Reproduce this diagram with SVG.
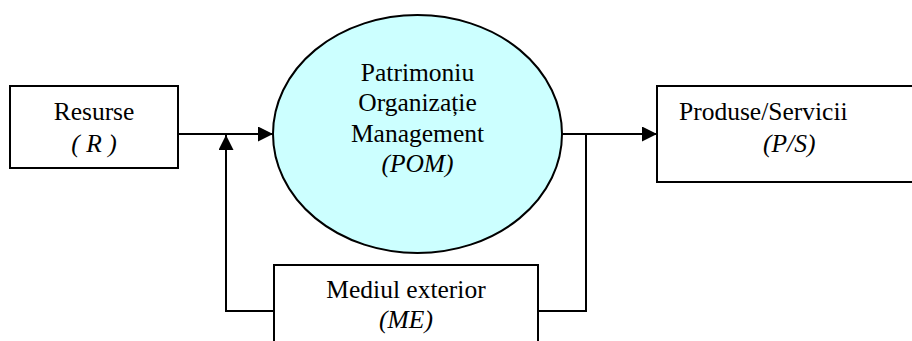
<svg xmlns="http://www.w3.org/2000/svg" width="912" height="341" viewBox="0 0 912 341">
<style>
.box{fill:#fff;stroke:#000;stroke-width:2}
.ell{fill:#ccffff;stroke:#000;stroke-width:2}
.t{font-size:25.5px;fill:#000}
.i{font-style:italic}
.c{fill:none;stroke:#000;stroke-width:2}
</style>
<defs>
<marker id="arr" viewBox="0 0 10 10" refX="10" refY="5" markerWidth="15" markerHeight="15" markerUnits="userSpaceOnUse" orient="auto">
<path d="M0,0 L10,5 L0,10 Z" fill="#000"/>
</marker>
</defs>
<g id="connectors">
<line class="c" x1="178" y1="134" x2="273" y2="134" marker-end="url(#arr)"/>
<polyline class="c" points="274,311 226,311 226,135" marker-end="url(#arr)"/>
<line class="c" x1="562" y1="134" x2="657" y2="134" marker-end="url(#arr)"/>
<polyline class="c" points="538,311 586,311 586,134"/>
</g>
<g font-family="Liberation Serif, Times New Roman, serif">
<g id="resurse">
<rect class="box" x="10" y="86" width="168" height="82"/>
<text class="t" x="94" y="120" text-anchor="middle">Resurse</text>
<text class="t i" x="94" y="152" text-anchor="middle">( R )</text>
</g>
<g id="pom">
<ellipse class="ell" cx="417.5" cy="134" rx="144.5" ry="119"/>
<text class="t" x="417.5" y="81" text-anchor="middle">Patrimoniu</text>
<text class="t" x="417.5" y="111" text-anchor="middle">Organizație</text>
<text class="t" x="417.5" y="142" text-anchor="middle">Management</text>
<text class="t i" x="417.5" y="172" text-anchor="middle">(POM)</text>
</g>
<g id="produse">
<rect class="box" x="657" y="86" width="270" height="96"/>
<text class="t" x="679" y="120">Produse/Servicii</text>
<text class="t i" x="763" y="152">(P/S)</text>
</g>
<g id="mediu">
<rect class="box" x="274" y="265" width="264" height="90"/>
<text class="t" x="406" y="298" text-anchor="middle">Mediul exterior</text>
<text class="t i" x="406" y="328" text-anchor="middle">(ME)</text>
</g>
</g>
</svg>
